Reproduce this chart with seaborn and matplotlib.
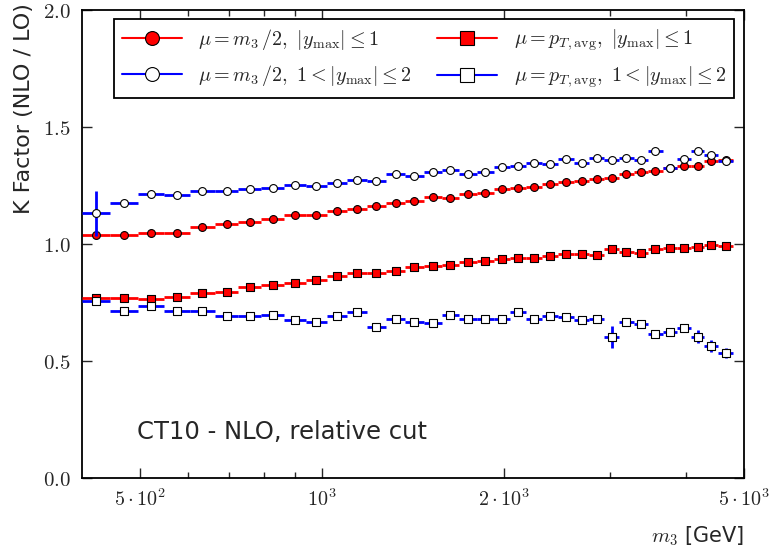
import numpy as np
import matplotlib
matplotlib.use("Agg")
import matplotlib.pyplot as plt
from matplotlib.lines import Line2D
import seaborn as sns

# bin edges in m3 [GeV]
edges = [400, 445, 495, 548, 604, 664, 726, 793, 865, 940, 1018, 1100, 1186,
         1276, 1372, 1473, 1578, 1687, 1802, 1924, 2049, 2178, 2317, 2462,
         2612, 2770, 2933, 3103, 3284, 3471, 3665, 3868, 4079, 4300, 4535, 4790]

# mu = m3/2, |ymax| <= 1
kf_m3_central = [1.037, 1.038, 1.046, 1.046, 1.072, 1.084, 1.093, 1.106, 1.121,
                 1.124, 1.141, 1.149, 1.163, 1.173, 1.185, 1.198, 1.194, 1.211,
                 1.217, 1.233, 1.238, 1.244, 1.257, 1.265, 1.270, 1.278, 1.281,
                 1.297, 1.307, 1.313, 1.325, 1.331, 1.334, 1.352, 1.357]
# mu = m3/2, 1 < |ymax| <= 2
kf_m3_forward = [1.131, 1.174, 1.214, 1.210, 1.227, 1.224, 1.236, 1.239, 1.251,
                 1.248, 1.260, 1.274, 1.270, 1.297, 1.291, 1.307, 1.316, 1.297,
                 1.307, 1.330, 1.334, 1.346, 1.340, 1.363, 1.344, 1.368, 1.358,
                 1.366, 1.359, 1.395, 1.325, 1.363, 1.397, 1.379, 1.354]
err_m3_forward = [0.096, 0.010, 0.008, 0.008, 0.008, 0.008, 0.008, 0.008, 0.008,
                  0.008, 0.008, 0.008, 0.008, 0.008, 0.008, 0.008, 0.008, 0.008,
                  0.008, 0.008, 0.008, 0.008, 0.008, 0.010, 0.010, 0.010, 0.010,
                  0.010, 0.012, 0.012, 0.018, 0.012, 0.012, 0.014, 0.016]
# mu = pT,avg, |ymax| <= 1
kf_pt_central = [0.769, 0.766, 0.763, 0.773, 0.790, 0.794, 0.813, 0.824, 0.834,
                 0.846, 0.863, 0.873, 0.877, 0.884, 0.902, 0.906, 0.910, 0.923,
                 0.926, 0.934, 0.937, 0.941, 0.946, 0.956, 0.957, 0.952, 0.977,
                 0.964, 0.960, 0.978, 0.980, 0.981, 0.986, 0.993, 0.990]
# mu = pT,avg, 1 < |ymax| <= 2
kf_pt_forward = [0.757, 0.714, 0.732, 0.712, 0.713, 0.693, 0.689, 0.696, 0.672,
                 0.665, 0.692, 0.706, 0.646, 0.676, 0.666, 0.662, 0.696, 0.680,
                 0.680, 0.680, 0.706, 0.680, 0.692, 0.686, 0.673, 0.677, 0.602,
                 0.665, 0.656, 0.616, 0.622, 0.639, 0.603, 0.564, 0.533]
err_pt_forward = [0.006, 0.015, 0.006, 0.006, 0.006, 0.006, 0.006, 0.006, 0.006,
                  0.006, 0.006, 0.006, 0.008, 0.006, 0.006, 0.006, 0.006, 0.006,
                  0.006, 0.006, 0.006, 0.006, 0.008, 0.008, 0.008, 0.008, 0.046,
                  0.010, 0.010, 0.012, 0.016, 0.012, 0.029, 0.025, 0.022]

labels = [r"$\mu = m_3\,/2,\ |y_{\mathrm{max}}|\leq 1$",
          r"$\mu = m_3\,/2,\ 1 < |y_{\mathrm{max}}|\leq 2$",
          r"$\mu = p_{T,\mathrm{avg}},\ |y_{\mathrm{max}}|\leq 1$",
          r"$\mu = p_{T,\mathrm{avg}},\ 1 < |y_{\mathrm{max}}|\leq 2$"]


def plot_kfactor():
    sns.set_style("ticks")
    plt.rcParams["font.family"] = ["DejaVu Sans"]
    plt.rcParams["mathtext.fontset"] = "cm"

    lo = np.array(edges[:-1], dtype=float)
    hi = np.array(edges[1:], dtype=float)
    mid = np.sqrt(lo * hi)

    fig = plt.figure(figsize=(7.69, 5.49), dpi=100)
    ax = fig.add_axes([0.1066, 0.1302, 0.8609, 0.8516])

    # (values, yerr, line colour, marker, face colour, label)
    series = [
        (kf_m3_central, None, "red", "o", "red", labels[0]),
        (kf_pt_central, None, "red", "s", "red", labels[2]),
        (kf_m3_forward, err_m3_forward, "blue", "o", "white", labels[1]),
        (kf_pt_forward, err_pt_forward, "blue", "s", "white", labels[3]),
    ]
    z = 2
    for vals, err, col, mk, face, lab in series:
        ax.errorbar(mid, vals, xerr=[mid - lo, hi - mid], yerr=err, fmt="none",
                    ecolor=col, elinewidth=2, capsize=0, zorder=z)
        sns.scatterplot(x=mid, y=vals, marker=mk, s=32, color=face,
                        edgecolor="black", linewidth=0.8, ax=ax, zorder=z + 1)
        z += 2

    ax.set_xscale("log")
    ax.set_xlim(400, 5000)
    ax.set_ylim(0, 2.0)
    ax.set_xticks([500, 1000, 2000, 5000],
                  [r"$5\cdot10^2$", r"$10^3$", r"$2\cdot10^3$", r"$5\cdot10^3$"])
    ax.set_xticks([600, 700, 800, 900, 3000, 4000], minor=True)
    ax.xaxis.set_minor_formatter(matplotlib.ticker.NullFormatter())
    yt = [0.0, 0.5, 1.0, 1.5, 2.0]
    ax.set_yticks(yt, [rf"${v:.1f}$" for v in yt])
    ax.tick_params(which="both", direction="in", top=True, right=True,
                   labelsize=15, width=1, pad=8)
    ax.tick_params(axis="x", labelsize=14.5)
    ax.tick_params(which="major", length=7)
    ax.tick_params(which="minor", length=4)
    for sp in ax.spines.values():
        sp.set_linewidth(1.3)
        sp.set_color("black")

    ax.set_ylabel("K Factor (NLO / LO)", fontsize=16, loc="top")
    ax.yaxis.set_label_coords(-0.073, 1.015)
    ax.set_xlabel(r"$m_3$ [GeV]", fontsize=15, loc="right")
    ax.xaxis.set_label_coords(1.0, -0.1)

    ax.text(0.083, 0.097, "CT10 - NLO, relative cut", transform=ax.transAxes,
            fontsize=17.5, va="center", ha="left")

    handles = []
    for vals, err, col, mk, face, lab in [series[0], series[2], series[1], series[3]]:
        handles.append(Line2D([], [], color=col, lw=1.5, marker=mk, markersize=10,
                              markerfacecolor=face, markeredgecolor="black",
                              markeredgewidth=0.8, label=lab))
    leg = ax.legend(handles=handles, ncol=2, loc="upper left",
                    bbox_to_anchor=(0.048, 0.805, 0.937, 0.176), mode="expand",
                    borderaxespad=0, fontsize=14.5, handlelength=3,
                    handletextpad=0.8, fancybox=False, framealpha=1,
                    edgecolor="black", labelspacing=0.55)
    leg.get_frame().set_linewidth(1.3)
    leg.set_zorder(20)

    fig.savefig("out.png", dpi=100)


if __name__ == "__main__":
    plot_kfactor()
